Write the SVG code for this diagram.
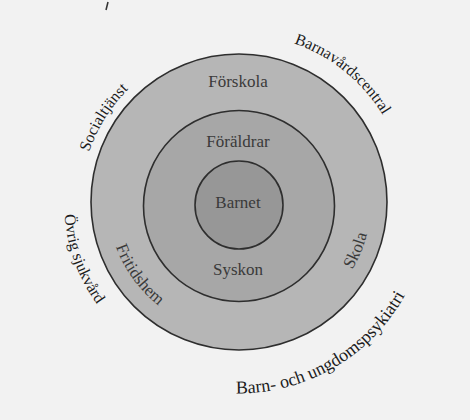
<svg xmlns="http://www.w3.org/2000/svg" width="470" height="420" viewBox="0 0 470 420">
<style>
.ring{stroke:#2e2e2e;stroke-width:1.6}
.lbl{font-family:"Liberation Serif","Times New Roman",serif;font-size:17px;fill:#3a3a3a;text-anchor:middle}
.out{font-family:"Liberation Serif","Times New Roman",serif;font-size:16px;fill:#1c1c1c;text-anchor:middle}
</style>
<defs>
<path id="pSoc" d="M84.5,169.2 A158,158 0 0 1 141.7,77.5"/>
<path id="pBvc" d="M279.6,39 A168,168 0 0 1 390,128.4"/>
<path id="pOvr" d="M64,202 A175,175 0 0 0 104.9,314.5"/>
<path id="pBup" d="M198,389 A190,190 0 0 0 420,260"/>
<path id="pFri" d="M112.5,235.9 A131,131 0 0 0 167.7,311.9"/>
<path id="pSko" d="M340.1,286.8 A132,132 0 0 0 370.5,213.5"/>
</defs>
<rect width="470" height="420" fill="#f2f2f2"/>
<line x1="108" y1="2" x2="106" y2="10" stroke="#333" stroke-width="1.5"/>
<g id="outer">
<circle class="ring" cx="239" cy="202" r="148" fill="#b6b6b6"/>
<text class="lbl" x="238" y="87">Förskola</text>
<text class="lbl"><textPath href="#pFri" startOffset="50%">Fritidshem</textPath></text>
<text class="lbl"><textPath href="#pSko" startOffset="50%">Skola</textPath></text>
</g>
<g id="middle">
<circle class="ring" cx="239" cy="206" r="95.5" fill="#a7a7a7"/>
<text class="lbl" x="238" y="147">Föräldrar</text>
<text class="lbl" x="238" y="275">Syskon</text>
</g>
<g id="inner">
<circle class="ring" cx="239" cy="205" r="44" fill="#979797"/>
<text class="lbl" x="238" y="208">Barnet</text>
</g>
<g id="socialtjanst"><text class="out"><textPath href="#pSoc" startOffset="50%">Socialtjänst</textPath></text></g>
<g id="barnavardscentral"><text class="out"><textPath href="#pBvc" startOffset="50%">Barnavårdscentral</textPath></text></g>
<g id="ovrig"><text class="out"><textPath href="#pOvr" startOffset="50%">Övrig sjukvård</textPath></text></g>
<g id="bup"><text class="out" style="font-size:18px"><textPath href="#pBup" startOffset="50%">Barn- och ungdomspsykiatri</textPath></text></g>
</svg>
